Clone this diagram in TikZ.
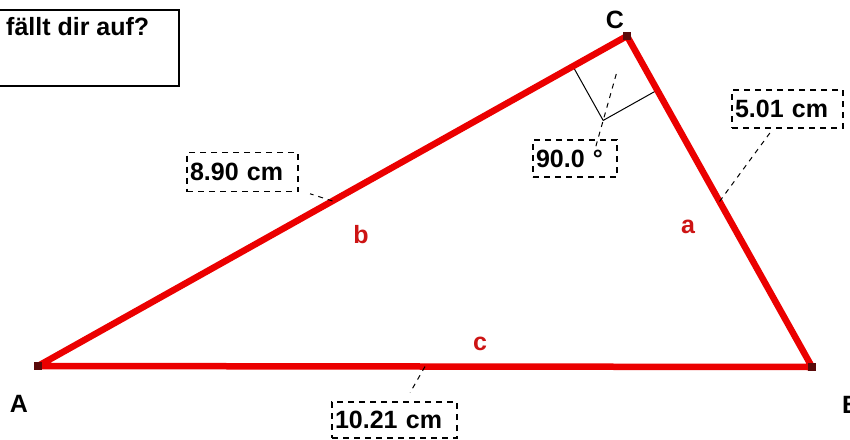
\documentclass[tikz,border=0pt]{standalone}
\usepackage{fontspec}
\setmainfont{Liberation Sans}
\usetikzlibrary{calc}
\definecolor{sidered}{RGB}{235,0,0}
\definecolor{labred}{RGB}{205,20,20}
\definecolor{vertdark}{RGB}{90,10,10}
\begin{document}
\begin{tikzpicture}[x=1pt,y=-1pt,
  every node/.style={font=\fontsize{25}{29}\selectfont\bfseries, inner sep=0pt},
  side/.style={draw=sidered, line width=6.5pt, line join=round},
  vert/.style={fill=vertdark, minimum size=8pt, inner sep=0pt},
  lbl/.style={draw=black, line width=1.3pt, dash pattern=on 6pt off 5pt, inner xsep=3pt, align=left},
  leader/.style={draw=black, line width=1pt, dash pattern=on 5pt off 5pt},
  sidelab/.style={text=labred, anchor=base},
  ptlab/.style={text=black}
]
\fill[white] (0,0) rectangle (850,439);
\useasboundingbox (0,0) rectangle (850,439);

% vertices
\coordinate (A) at (38,366);
\coordinate (B) at (812,367);
\coordinate (C) at (627,36);

% right-angle mark
\coordinate (P1) at ($(C)!62pt!(A)$);
\coordinate (P2) at ($(C)!62pt!(B)$);
\coordinate (Q) at ($(P1)+(P2)-(C)$);
\draw[line width=1pt] (P1) -- (Q) -- (P2);

% sides
\draw[side] (A) -- (C) -- (B) -- cycle;
\node[vert] (vA) at (A) {};
\node[vert] (vB) at (B) {};
\node[vert] (vC) at (C) {};

% midpoints
\coordinate (ma) at ($(C)!0.5!(B)$);
\coordinate (mb) at ($(A)!0.5!(C)$);
\coordinate (mc) at ($(A)!0.5!(B)$);

% measurement labels
\node[lbl, minimum width=111pt, minimum height=38pt, text width=105pt] (la) at (787.5,109) {5.01 cm};
\node[lbl, minimum width=111pt, minimum height=39pt, text width=105pt] (lb) at (242.5,172) {8.90 cm};
\node[lbl, minimum width=125pt, minimum height=36pt, text width=119pt] (lc) at (394.5,420) {10.21 cm};
\node[lbl, minimum width=84pt, minimum height=37pt, text width=78pt] (lg) at (575,158.5) {90.0 °};

% leaders
\draw[leader, shorten >=5pt] (ma) -- (la);
\draw[leader, shorten >=12pt] (mb) -- (lb);
\draw[leader, shorten >=10pt] (mc) -- (lc);
\coordinate (g1) at ($(C)!0.45!(Q)$);
\coordinate (g2) at ($(C)!1.35!(Q)$);
\draw[leader] (g1) -- (g2);

% side names
\node[sidelab] (na) at (688,233) {a};
\node[sidelab] (nb) at (361,243) {b};
\node[sidelab] (nc) at (480,350) {c};

% point names
\node[ptlab, anchor=base] (tA) at (19,412) {A};
\node[ptlab, anchor=base west] (tB) at (842,413) {B};
\node[ptlab, anchor=base] (tC) at (615,28) {C};

% question box
\node[draw=black, line width=2pt, anchor=north west, minimum width=188pt, minimum height=76pt] (qbox) at (-10,9) {};
\node[anchor=base west] (qtext) at (6,35) {fällt dir auf?};
\end{tikzpicture}
\end{document}
